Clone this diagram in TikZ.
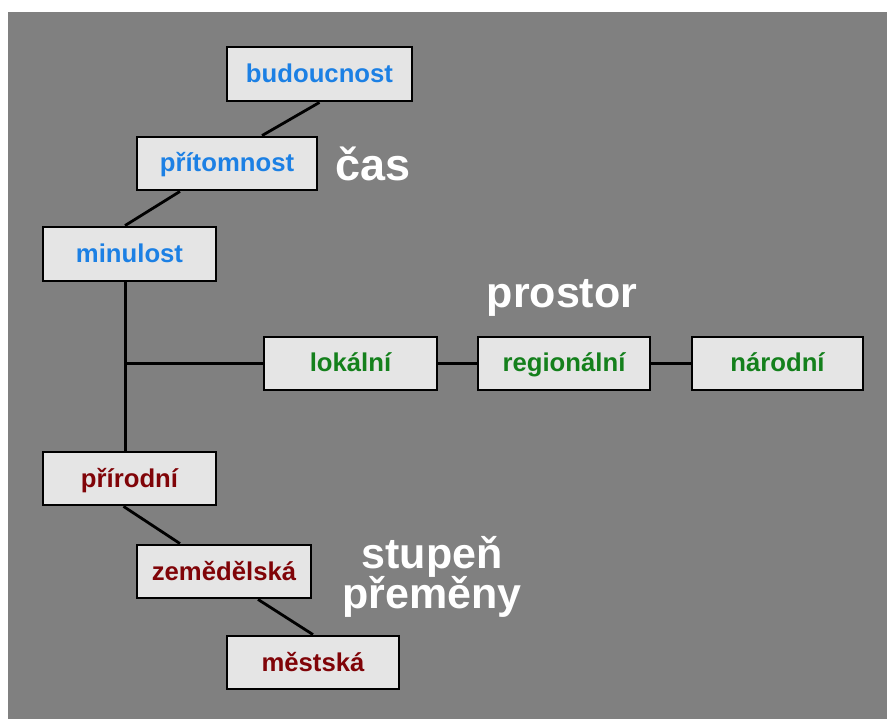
\documentclass[tikz,border=0pt]{standalone}
\usepackage{fontspec}
\setmainfont{Liberation Sans}
\usetikzlibrary{calc}
\definecolor{bggray}{RGB}{128,128,128}
\definecolor{boxfill}{RGB}{229,229,229}
\definecolor{tblue}{RGB}{28,128,228}
\definecolor{tgreen}{RGB}{20,128,28}
\definecolor{tred}{RGB}{128,4,8}
\tikzset{
  box/.style={draw=black, line width=2.8pt, fill=boxfill, rectangle, inner sep=0pt,
    minimum height=53pt, font=\fontsize{25.7}{28}\selectfont\bfseries,
    text height=19pt, text depth=2pt},
  conn/.style={draw=black, line width=2.8pt},
  biglabel/.style={text=white, font=\fontsize{43}{44}\selectfont\bfseries, inner sep=0pt, align=center}
}
\begin{document}
\begin{tikzpicture}[x=1pt,y=-1pt]
\useasboundingbox (0,0) rectangle (887,719);
\fill[white] (0,0) rectangle (887,719);
\fill[bggray] (8,12) rectangle (887,719);

\node[box, minimum width=185pt, minimum height=54pt, text=tblue] (bud) at (319.5,74) {budoucnost};
\node[box, minimum width=180pt, text=tblue] (pri) at (227,163.5) {přítomnost};
\node[box, minimum width=173pt, minimum height=54pt, text=tblue] (min) at (129.5,254) {minulost};

\node[box, minimum width=173pt, text=tgreen] (lok) at (350.5,363.5) {lokální};
\node[box, minimum width=172pt, text=tgreen] (reg) at (564,363.5) {regionální};
\node[box, minimum width=171pt, text=tgreen] (nar) at (777.5,363.5) {národní};

\node[box, minimum width=173pt, text=tred] (prir) at (129.5,478.5) {přírodní};
\node[box, minimum width=174pt, text=tred] (zem) at (224,571.5) {zemědělská};
\node[box, minimum width=172pt, text=tred] (mes) at (313,662.5) {městská};

\node[biglabel, font=\fontsize{45}{46}\selectfont\bfseries] (cas) at (373,164) {čas};
\node[biglabel] (prostor) at (562,298) {prostor};
\node[biglabel] (stupen) at (432,577) {stupeň\\[-4pt]přeměny};

\coordinate (junc) at (125.5,363.5);

\begin{scope}[on background layer/.try]
\draw[conn] (bud.south) -- ([xshift=35]pri.north);
\draw[conn] ([xshift=-47]pri.south) -- ([xshift=-4.5]min.north);
\draw[conn] ([xshift=-4]min.south) -- ([xshift=-4]prir.north);
\draw[conn] (junc) -- (lok.west);
\draw[conn] (lok.east) -- (reg.west);
\draw[conn] (reg.east) -- (nar.west);
\draw[conn] ([xshift=-6]prir.south) -- ([xshift=-44]zem.north);
\draw[conn] ([xshift=34]zem.south) -- (mes.north);
\end{scope}
\end{tikzpicture}
\end{document}
